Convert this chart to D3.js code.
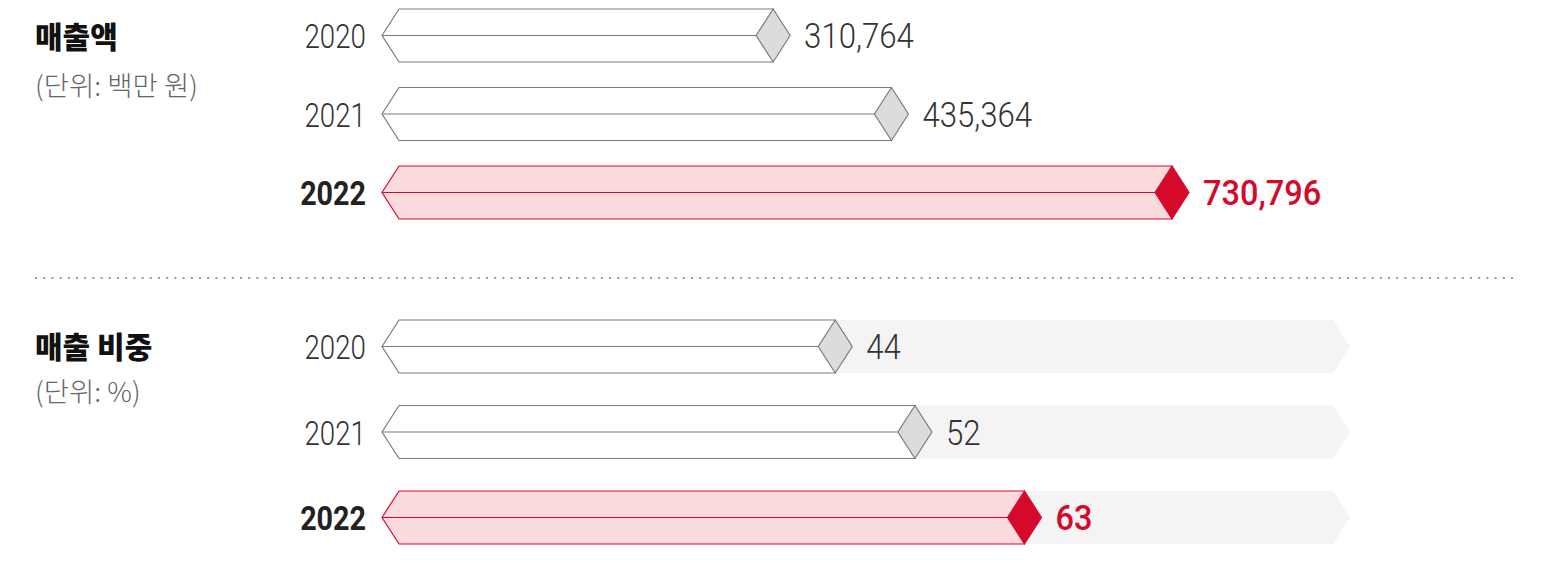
<!DOCTYPE html>
<html>
<head>
<meta charset="utf-8">
<script src="https://cdn.jsdelivr.net/npm/d3@7"></script>
<style>
  html, body { margin: 0; padding: 0; background: #fff; }
  svg { display: block; }
</style>
</head>
<body>
<svg id="chart" width="1562" height="563"></svg>
<script>
// Years shown in both panels
const years = ["2020", "2021", "2022"];
// Revenue, in million KRW
const revenue = [310764, 435364, 730796];
// Revenue share, in %
const share = [44, 52, 63];
// Panel titles and units
const panelTitles = ["매출액", "매출 비중"];
const panelUnits = ["(단위: 백만 원)", "(단위: %)"];

const svg = d3.select("#chart");

const C = {
  grayLine: "#7a7a7a",
  grayDiamond: "#dcdcdc",
  red: "#d50a2a",
  pink: "#fadadd",
  track: "#f4f4f4",
  text: "#333",
  unit: "#666"
};

const barH = 53;       // bar thickness
const tip = 17;        // chevron / diamond half-width
const xStart = 382;    // left tip of every bar
const fmt = d3.format(",");

const numFont = "Roboto, 'Open Sans', sans-serif";
const krFont = "'Noto Sans CJK KR', 'Noto Sans', sans-serif";

// Scales
const xRev = d3.scaleLinear().domain([0, d3.max(revenue)]).range([478, 1172]);
const xShare = d3.scaleLinear().domain([0, 100]).range([397, 1393]);
const yRev = d3.scalePoint().domain(years).range([35.5, 192.5]);
const yShare = d3.scalePoint().domain(years).range([346.5, 517.5]);

function drawPanel(g, values, x, y, withTrack, label) {
  const data = years.map((yr, i) => ({ year: yr, value: values[i], hi: i === years.length - 1 }));

  if (withTrack) {
    const trackEnd = 1333;
    g.selectAll("path.track").data(data).join("path")
      .attr("class", "track")
      .attr("fill", C.track)
      .attr("d", d => {
        const cy = y(d.year), t = cy - barH / 2, b = cy + barH / 2;
        return `M${xStart},${cy}L${xStart + tip},${t}L${trackEnd},${t}L${trackEnd + tip},${cy}L${trackEnd},${b}L${xStart + tip},${b}Z`;
      });
  }

  const bar = g.selectAll("g.bar").data(data).join("g").attr("class", "bar");

  // body of the bar with chevron on the left
  bar.append("path")
    .attr("fill", d => d.hi ? C.pink : "#fff")
    .attr("stroke", d => d.hi ? C.red : C.grayLine)
    .attr("stroke-width", 1.2)
    .attr("d", d => {
      const cy = y(d.year), t = cy - barH / 2, b = cy + barH / 2, xe = x(d.value);
      return `M${xStart},${cy}L${xStart + tip},${t}L${xe},${t}L${xe},${b}L${xStart + tip},${b}Z`;
    });

  // centre ridge line
  bar.append("line")
    .attr("stroke", d => d.hi ? C.red : C.grayLine)
    .attr("stroke-width", 1.2)
    .attr("x1", xStart)
    .attr("x2", d => x(d.value) - tip)
    .attr("y1", d => y(d.year))
    .attr("y2", d => y(d.year));

  // diamond cap at the value end
  bar.append("path")
    .attr("fill", d => d.hi ? C.red : C.grayDiamond)
    .attr("stroke", d => d.hi ? C.red : C.grayLine)
    .attr("stroke-width", 1.2)
    .attr("d", d => {
      const cy = y(d.year), t = cy - barH / 2, b = cy + barH / 2, xe = x(d.value);
      return `M${xe},${t}L${xe + tip},${cy}L${xe},${b}L${xe - tip},${cy}Z`;
    });

  // year labels (horizontally condensed)
  bar.append("text")
    .attr("transform", d => `translate(366,${y(d.year) + 12.5}) scale(${d.hi ? 0.87 : 0.84},1)`)
    .attr("text-anchor", "end")
    .attr("font-family", numFont)
    .attr("font-size", 33)
    .attr("font-weight", d => d.hi ? 700 : 300)
    .attr("fill", d => d.hi ? "#222" : C.text)
    .text(d => d.year);

  // value labels (horizontally condensed)
  bar.append("text")
    .attr("transform", d => `translate(${x(d.value) + tip + 14},${y(d.year) + 12.5}) scale(${d.hi ? 0.93 : 0.89},1)`)
    .attr("font-family", numFont)
    .attr("font-size", 35)
    .attr("font-weight", d => d.hi ? 500 : 300)
    .attr("fill", d => d.hi ? C.red : C.text)
    .text(d => label(d.value));
}

function drawTitle(title, unit, yTitle, yUnit) {
  svg.append("text")
    .attr("x", 35).attr("y", yTitle)
    .attr("font-family", krFont).attr("font-size", 30).attr("font-weight", 900)
    .attr("fill", "#111")
    .text(title);
  svg.append("text")
    .attr("x", 35).attr("y", yUnit)
    .attr("font-family", krFont).attr("font-size", 27.5).attr("font-weight", 300)
    .attr("fill", C.unit)
    .text(unit);
}

drawTitle(panelTitles[0], panelUnits[0], 48, 96);
drawTitle(panelTitles[1], panelUnits[1], 358, 402);

drawPanel(svg.append("g"), revenue, xRev, yRev, false, v => fmt(v));
drawPanel(svg.append("g"), share, xShare, yShare, true, v => String(v));

// dotted separator
svg.append("line")
  .attr("x1", 35).attr("x2", 1515)
  .attr("y1", 278).attr("y2", 278)
  .attr("stroke", "#9a9a9a")
  .attr("stroke-width", 2)
  .attr("stroke-dasharray", "2,6.2");
</script>
</body>
</html>
